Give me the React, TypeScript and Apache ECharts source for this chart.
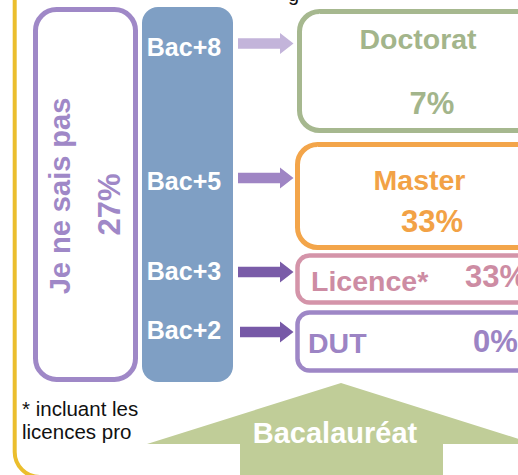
import React, { useEffect, useRef } from "react";
import * as echarts from "echarts";

// ---- data ----
const levels = ["Bac+8", "Bac+5", "Bac+3", "Bac+2"];
const diplomas = ["Doctorat", "Master", "Licence*", "DUT"];
const shares = [7, 33, 33, 0];
const unknownLabel = "Je ne sais pas";
const unknownShare = 27;
const baseLabel = "Bacalauréat";
const footnote = ["* incluant les", "licences pro"];
const topFragment = "g";

// ---- layout / style ----
const FONT = '"Liberation Sans", Arial, sans-serif';
const boxColors = ["#A6B88F", "#F3A54A", "#D494A9", "#9E87C6"];
const textColors = ["#A3B58B", "#F2A246", "#CD8CA3", "#9C84C4"];
const arrowColors = ["#C3B4DA", "#9F85C4", "#7A5CA8", "#7759A7"];
const boxGeom = [
  { top: 11.5, bottom: 130.5, r: 20, tx: 418, ty: 39, ta: "center", px: 432, py: 103.5, pa: "center" },
  { top: 144.5, bottom: 247.5, r: 20, tx: 419.5, ty: 180, ta: "center", px: 432, py: 221, pa: "center" },
  { top: 255.5, bottom: 302.5, r: 12, tx: 311, ty: 281, ta: "left", px: 465, py: 276, pa: "left" },
  { top: 312.5, bottom: 370.5, r: 12, tx: 308, ty: 342.5, ta: "left", px: 473, py: 341, pa: "left" },
];
const arrowY = [43.5, 178, 272, 332];
const levelY = [46.5, 181, 270.5, 330];

function txt(text: string, x: number, y: number, size: number, fill: string, align = "center", weight = "bold", extra: any = {}) {
  return {
    type: "text",
    x,
    y,
    ...extra,
    style: {
      text,
      fill,
      font: `${weight} ${size}px ${FONT}`,
      align,
      verticalAlign: "middle",
      textAlign: align,
      textVerticalAlign: "middle",
    },
  };
}

export default function App() {
  const ref = useRef<HTMLDivElement>(null);
  useEffect(() => {
    document.body.style.margin = "0";
    const chart = echarts.init(ref.current!, null, { renderer: "svg" });
    const elements: any[] = [];

    // yellow outer frame
    elements.push({
      type: "rect",
      shape: { x: 14.7, y: -60, width: 700, height: 537, r: 25 },
      style: { fill: "none", stroke: "#EBBE2D", lineWidth: 4 },
    });

    // "je ne sais pas" box
    elements.push({
      type: "rect",
      shape: { x: 35.5, y: 9.5, width: 100, height: 370, r: 21 },
      style: { fill: "#fff", stroke: "#9F88C7", lineWidth: 5 },
    });
    elements.push(txt(unknownLabel, 60, 196, 29, "#9F88C7", "center", "bold", { rotation: Math.PI / 2 }));
    elements.push(txt(unknownShare + "%", 109, 204.5, 31, "#9F88C7", "center", "bold", { rotation: Math.PI / 2 }));

    // blue level column
    elements.push({
      type: "rect",
      shape: { x: 142, y: 7, width: 91, height: 375, r: 16 },
      style: { fill: "#7F9FC4" },
    });
    levels.forEach((l, i) => {
      elements.push(txt(l, 184, levelY[i], 25, "#FFFFFF"));
    });

    // arrows
    arrowY.forEach((y, i) => {
      const x0 = i === 3 ? 240 : 238;
      elements.push({
        type: "polygon",
        shape: {
          points: [
            [x0, y - 5.2],
            [280, y - 5.2],
            [280, y - 10.5],
            [293.5, y],
            [280, y + 10.5],
            [280, y + 5.2],
            [x0, y + 5.2],
          ],
        },
        style: { fill: arrowColors[i] },
      });
    });

    // diploma boxes
    diplomas.forEach((d, i) => {
      const g = boxGeom[i];
      elements.push({
        type: "rect",
        shape: { x: i === 0 ? 299.5 : 297.5, y: g.top, width: 300, height: g.bottom - g.top, r: g.r },
        style: { fill: "none", stroke: boxColors[i], lineWidth: i >= 2 ? 4.5 : 5 },
      });
      elements.push(txt(d, g.tx, g.ty, 28.5, textColors[i], g.ta));
      elements.push(txt(shares[i] + "%", g.px, g.py, 31, textColors[i], g.pa));
    });

    // baccalaureate up arrow
    elements.push({
      type: "polygon",
      shape: {
        points: [
          [341, 383],
          [535, 444],
          [443, 444],
          [443, 490],
          [240, 490],
          [240, 444],
          [147, 444],
        ],
      },
      style: { fill: "#C0CD98" },
    });
    elements.push(txt(baseLabel, 335, 433, 29, "#FFFFFF"));

    // footnote
    elements.push(txt(footnote[0], 22, 408, 20.5, "#111111", "left", "normal"));
    elements.push(txt(footnote[1], 22, 431, 20.5, "#111111", "left", "normal"));

    // cut-off fragment at top
    elements.push(txt(topFragment, 288, -6, 20, "#111111", "left", "normal"));

    chart.setOption({
      animation: false,
      backgroundColor: "#FFFFFF",
      graphic: { elements },
    });
    return () => chart.dispose();
  }, []);
  return <div ref={ref} style={{ width: 518, height: 475 }} />;
}
